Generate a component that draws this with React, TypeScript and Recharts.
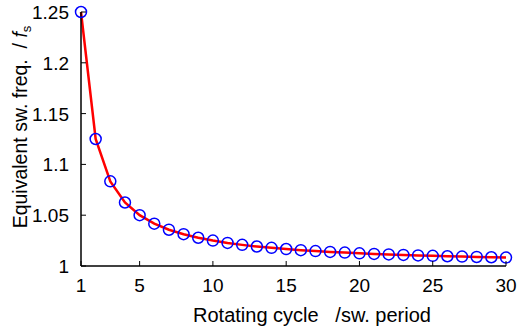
import React from "react";
import { ComposedChart, Line, XAxis, YAxis, Label } from "recharts";

const cycles = [1,2,3,4,5,6,7,8,9,10,11,12,13,14,15,16,17,18,19,20,21,22,23,24,25,26,27,28,29,30];
const freq = [1.25,1.125,1.0833,1.0625,1.05,1.0417,1.0357,1.0313,1.0278,1.025,1.0227,1.0208,1.0192,1.0179,1.0167,1.0156,1.0147,1.0139,1.0132,1.0125,1.0119,1.0114,1.0109,1.0104,1.01,1.0096,1.0093,1.0089,1.0086,1.0083];
const xTicks = [1,5,10,15,20,25,30];
const yTicks = [1,1.05,1.1,1.15,1.2,1.25];
const yTickLabels = ["1","1.05","1.1","1.15","1.2","1.25"];

const data = cycles.map((n, i) => ({ n, v: freq[i] }));
const FONT = "'Liberation Sans', Arial, sans-serif";
const TICK_LEN = 5;

const YLabel = () => {
  const cy = 127;
  const cx = 27;
  return (
    <text
      x={cx}
      y={cy}
      transform={`rotate(-90 ${cx} ${cy})`}
      textAnchor="middle"
      fontFamily={FONT}
      fontSize={19.5}
      fill="#000"
    >
      Equivalent sw. freq.{"\u00a0\u00a0"}/ <tspan fontStyle="italic">f</tspan>
      <tspan fontSize={13} dy={4}>s</tspan>
    </text>
  );
};

const XLabel = () => (
  <text x={312} y={322} textAnchor="middle" fontFamily={FONT} fontSize={20} fill="#000">
    {"Rotating cycle\u00a0\u00a0\u00a0/sw. period"}
  </text>
);

const BottomTick = (props: any) => {
  const { x, y, payload } = props;
  return (
    <g>
      <line x1={x} y1={y} x2={x} y2={y - TICK_LEN} stroke="#000" strokeWidth={1} />
      <text x={x} y={y + 26} textAnchor="middle" fontFamily={FONT} fontSize={19} fill="#000">
        {payload.value}
      </text>
    </g>
  );
};

const TopTick = (props: any) => {
  const { x, y } = props;
  return <line x1={x} y1={y} x2={x} y2={y + TICK_LEN} stroke="#000" strokeWidth={1} />;
};

const LeftTick = (props: any) => {
  const { x, y, payload } = props;
  const idx = yTicks.indexOf(payload.value);
  return (
    <g>
      <line x1={x} y1={y} x2={x + TICK_LEN} y2={y} stroke="#000" strokeWidth={1} />
      <text x={x - 12} y={y + 7} textAnchor="end" fontFamily={FONT} fontSize={19} fill="#000">
        {idx >= 0 ? yTickLabels[idx] : String(payload.value)}
      </text>
    </g>
  );
};

const RightTick = (props: any) => {
  const { x, y } = props;
  return <line x1={x} y1={y} x2={x - TICK_LEN} y2={y} stroke="#000" strokeWidth={1} />;
};

export default function App() {
  const axisLine = { stroke: "#000", strokeWidth: 1.5 };
  return (
    <div style={{ position: "absolute", left: 0, top: 0, background: "#fff" }}>
      <ComposedChart width={526} height={333} data={data} margin={{ top: 12, right: 20, left: 0, bottom: 0 }}>
        <XAxis
          xAxisId="b"
          dataKey="n"
          type="number"
          domain={[1, 30]}
          ticks={xTicks}
          interval={0}
          height={67}
          axisLine={axisLine}
          tickLine={false}
          tickSize={0}
          tickMargin={0}
          tick={<BottomTick />}
        >
          <Label content={<XLabel />} />
        </XAxis>
        <XAxis
          xAxisId="t"
          orientation="top"
          dataKey="n"
          type="number"
          domain={[1, 30]}
          ticks={xTicks}
          interval={0}
          height={0}
          axisLine={axisLine}
          tickLine={false}
          tickSize={0}
          tickMargin={0}
          tick={<TopTick />}
        />
        <YAxis
          yAxisId="l"
          type="number"
          domain={[1, 1.25]}
          ticks={yTicks}
          interval={0}
          width={81}
          axisLine={axisLine}
          tickLine={false}
          tickSize={0}
          tickMargin={0}
          tick={<LeftTick />}
        >
          <Label content={<YLabel />} />
        </YAxis>
        <YAxis
          yAxisId="r"
          orientation="right"
          type="number"
          domain={[1, 1.25]}
          ticks={yTicks}
          interval={0}
          width={0}
          axisLine={axisLine}
          tickLine={false}
          tickSize={0}
          tickMargin={0}
          tick={<RightTick />}
        />
        <Line
          xAxisId="b"
          yAxisId="l"
          dataKey="v"
          type="linear"
          stroke="none"
          dot={{ r: 5.5, stroke: "#0000ff", strokeWidth: 1.5, fill: "none" }}
          isAnimationActive={false}
        />
        <Line
          xAxisId="b"
          yAxisId="l"
          dataKey="v"
          type="linear"
          stroke="#ff0000"
          strokeWidth={2.5}
          dot={false}
          isAnimationActive={false}
        />
      </ComposedChart>
    </div>
  );
}
